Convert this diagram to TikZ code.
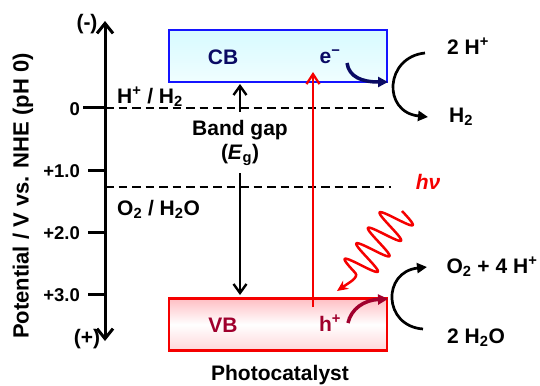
\documentclass[tikz,border=0pt]{standalone}
\usepackage{fontspec}
\setmainfont{Liberation Sans}
\usetikzlibrary{arrows.meta}
\definecolor{cbnavy}{RGB}{10,10,100}
\definecolor{vbmaroon}{RGB}{160,0,45}
\definecolor{cbblue}{RGB}{20,20,255}
\definecolor{vbred}{RGB}{245,0,0}
\definecolor{cbtop}{RGB}{215,250,255}
\definecolor{cbbot}{RGB}{240,254,255}
\definecolor{vbtop}{RGB}{255,190,195}
\definecolor{vbbot}{RGB}{255,215,218}
\begin{document}
\begin{tikzpicture}[x=1pt,y=-1pt,
  lbl/.style={font=\bfseries\fontsize{21}{24}\selectfont, inner sep=0pt},
  ticklbl/.style={font=\bfseries\fontsize{18.5}{20}\selectfont, inner sep=0pt, anchor=east},
  axisline/.style={line width=3pt},
  tickline/.style={line width=3pt},
  levelline/.style={line width=2.6pt, dash pattern=on 8.5pt off 5pt},
  bandbox/.style={minimum width=218pt, minimum height=52pt, line width=2.8pt, inner sep=0pt},
  gaparrow/.style={line width=2.4pt, -{Straight Barb[length=9pt,width=13pt]}},
  excite/.style={vbred, line width=2.3pt, -{Straight Barb[length=10pt,width=13pt]}},
  photon/.style={vbred, line width=2.5pt, -{Stealth[length=11pt,width=10pt]}},
  redox/.style={line width=2.7pt, -{Triangle[length=10pt,width=10pt]}},
  carrier/.style={line width=3.5pt, -{Triangle[length=10pt,width=10pt]}}
]
\useasboundingbox (0,0) rectangle (540,385);

% axis
\coordinate (atop) at (105,21);
\coordinate (abot) at (105,341);
\draw[axisline, {Straight Barb[length=10pt,width=16pt]}-{Straight Barb[length=10pt,width=16pt]}] (abot) -- (atop);
\node[lbl] (minus) at (87,24) {(-)};
\node[lbl] (plus) at (87,339) {(+)};

% ticks
\coordinate (t0a) at (83,108);  \coordinate (t0b) at (105,108);
\coordinate (t1a) at (88,170);  \coordinate (t1b) at (105,170);
\coordinate (t2a) at (88,232);  \coordinate (t2b) at (105,232);
\coordinate (t3a) at (88,294);  \coordinate (t3b) at (105,294);
\draw[tickline] (t0a) -- (t0b);
\draw[tickline] (t1a) -- (t1b);
\draw[tickline] (t2a) -- (t2b);
\draw[tickline] (t3a) -- (t3b);
\node[ticklbl] (l0) at (80,109) {0};
\node[ticklbl] (l1) at (80,171) {+1.0};
\node[ticklbl] (l2) at (80,233) {+2.0};
\node[ticklbl] (l3) at (80,295) {+3.0};

% title
\node[font=\bfseries\fontsize{22}{25}\selectfont, rotate=90, inner sep=0pt] (title) at (23,196) {Potential / V vs. NHE (pH 0)};

% redox levels
\coordinate (hlA) at (105,108); \coordinate (hlB) at (386,108);
\coordinate (olA) at (105,187); \coordinate (olB) at (391,187);
\draw[levelline] (hlA) -- (hlB);
\draw[levelline] (olA) -- (olB);
\node[lbl, anchor=west] (hh2) at (117,97) {H\textsuperscript{+} / H\textsubscript{2}};
\node[lbl, anchor=west] (oh2o) at (117,209) {O\textsubscript{2} / H\textsubscript{2}O};

% bands
\node[bandbox, draw=cbblue, top color=cbtop, bottom color=cbbot] (CB) at (278,56) {};
\node[bandbox, draw=vbred, top color=vbtop, bottom color=vbbot, middle color=white] (VB) at (278,324.5) {};
\node[lbl, text=cbnavy] (cbl) at (223,57) {CB};
\node[lbl, text=cbnavy] (el) at (330,57) {e\textsuperscript{−}};
\node[lbl, text=vbmaroon] (vbl) at (223,325) {VB};
\node[lbl, text=vbmaroon] (hl) at (330,323) {h\textsuperscript{+}};
\node[lbl] (pc) at (280,375) {Photocatalyst};

% band gap
\node[lbl, align=center] (bg) at (240,143) {Band gap\\(\textit{E}\textsubscript{g})};
\coordinate (bgtop) at (240,112);
\coordinate (bgbot) at (240,173);
\coordinate (bgcb) at (240,84);
\coordinate (bgvb) at (240,295);
\draw[gaparrow] (bgtop) -- (bgcb);
\draw[gaparrow] (bgbot) -- (bgvb);

% excitation
\coordinate (exA) at (313,307);
\coordinate (exB) at (313,72);
\draw[excite] (exA) -- (exB);

% photon
\coordinate (phtip) at (337,291);
\draw[photon] plot[domain=0:4, samples=161, smooth, variable=\t] ({402-11.64*\t+13.6*sin(360*\t)}, {211+15.52*\t+10.2*sin(360*\t)}) .. controls (359.5,277.5) and (347,284) .. (phtip);
\node[font=\bfseries\itshape\fontsize{21}{24}\selectfont, text=vbred, inner sep=0pt] (hnu) at (428,182) {hν};

% carriers
\coordinate (eA) at (347,63); \coordinate (eB) at (388,82);
\draw[carrier, cbnavy] (eA) .. controls (349,77) and (362,82) .. (eB);
\coordinate (hA) at (348,323); \coordinate (hB) at (388,299);
\draw[carrier, vbmaroon] (hA) .. controls (351,309) and (364,300) .. (hB);

% reduction
\node[lbl] (hp) at (468,46) {2 H\textsuperscript{+}};
\node[lbl] (h2) at (461,117) {H\textsubscript{2}};
\coordinate (rA) at (425,53); \coordinate (rB) at (428,117);
\draw[redox] (rA) .. controls (385,57) and (382,112) .. (rB);

% oxidation
\node[lbl] (o2) at (492,267) {O\textsubscript{2} + 4 H\textsuperscript{+}};
\node[lbl] (h2o) at (476,338) {2 H\textsubscript{2}O};
\coordinate (oA) at (423,329); \coordinate (oB) at (427,267);
\draw[redox] (oA) .. controls (383,326) and (382,272) .. (oB);
\end{tikzpicture}
\end{document}
